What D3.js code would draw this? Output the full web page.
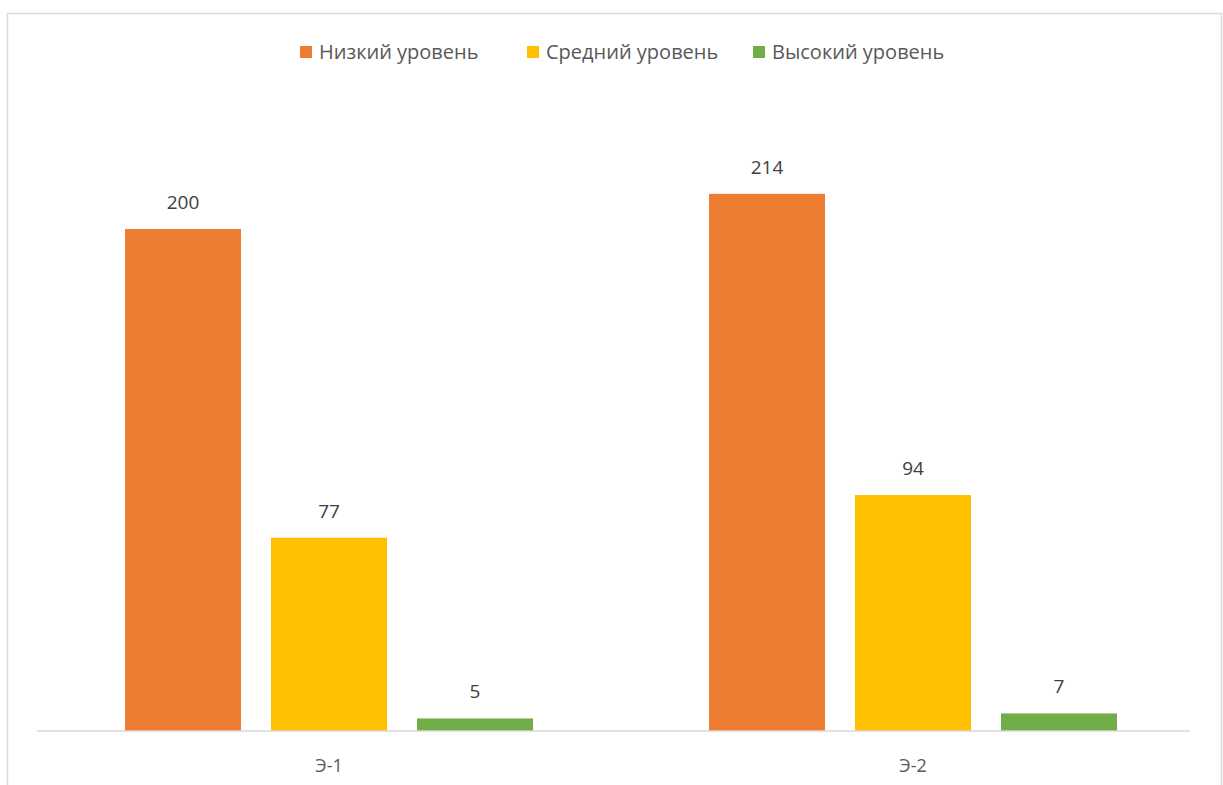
<!DOCTYPE html>
<html>
<head>
<meta charset="utf-8">
<script src="https://cdn.jsdelivr.net/npm/d3@7"></script>
<style>
  html, body { margin: 0; padding: 0; background: #fff; }
  svg { display: block; }
</style>
</head>
<body>
<svg id="chart" width="1223" height="785"></svg>
<script>
// chart data
var categories = ["Э-1", "Э-2"];
var seriesNames = ["Низкий уровень", "Средний уровень", "Высокий уровень"];
var seriesColors = ["#ED7D31", "#FFC000", "#70AD47"];
var lowValues = [200, 214];
var midValues = [77, 94];
var highValues = [5, 7];
var seriesValues = [lowValues, midValues, highValues];

var svg = d3.select("#chart");
var font = "'Open Sans', sans-serif";

// outer frame
svg.append("rect")
    .attr("x", 7.5).attr("y", 13.5)
    .attr("width", 1214).attr("height", 800)
    .attr("fill", "none")
    .attr("stroke", "#d9d9d9")
    .attr("stroke-width", 1.5);

var plot = { left: 37, right: 1205, top: 103.5, bottom: 731 };

var x0 = d3.scaleBand()
    .domain(categories)
    .range([plot.left, plot.right])
    .paddingInner(0).paddingOuter(0);

// inner scale spans the group width (3 bars + 2 gaps)
var groupW = 408;
var x1 = d3.scaleBand()
    .domain(d3.range(seriesNames.length))
    .range([(x0.bandwidth() - groupW) / 2, (x0.bandwidth() + groupW) / 2])
    .paddingInner(30 / 146)
    .paddingOuter(0);

var y = d3.scaleLinear().domain([0, 250]).range([plot.bottom, plot.top]);

var groups = svg.selectAll("g.cat")
    .data(categories)
    .enter().append("g")
    .attr("class", "cat")
    .attr("transform", function (d) { return "translate(" + x0(d) + ",0)"; });

groups.each(function (cat, ci) {
    var g = d3.select(this);
    seriesValues.forEach(function (vals, si) {
        var v = vals[ci];
        g.append("rect")
            .attr("x", x1(si))
            .attr("y", y(v))
            .attr("width", x1.bandwidth())
            .attr("height", y(0) - y(v))
            .attr("fill", seriesColors[si]);
        g.append("text")
            .attr("x", x1(si) + x1.bandwidth() / 2)
            .attr("y", y(v) - 20)
            .attr("text-anchor", "middle")
            .attr("font-family", font)
            .attr("font-size", 19)
            .attr("fill", "#404040")
            .text(v);
    });
});

// baseline axis
var xAxis = d3.axisBottom(x0).tickSize(0).tickPadding(28);
var axisG = svg.append("g")
    .attr("transform", "translate(0," + plot.bottom + ")")
    .call(xAxis);
axisG.select(".domain").attr("stroke", "#d9d9d9").attr("stroke-width", 1.5)
    .attr("d", "M" + plot.left + ",0H" + (plot.right - 15));
axisG.selectAll("text")
    .attr("font-family", font)
    .attr("font-size", 18)
    .attr("fill", "#595959");

// legend
var legendX = [300, 527, 753];
var legend = svg.append("g");
seriesNames.forEach(function (name, i) {
    legend.append("rect")
        .attr("x", legendX[i]).attr("y", 46)
        .attr("width", 12).attr("height", 12)
        .attr("fill", seriesColors[i]);
    legend.append("text")
        .attr("x", legendX[i] + 19).attr("y", 59)
        .attr("font-family", font)
        .attr("font-size", 20)
        .attr("fill", "#595959")
        .text(name);
});
</script>
</body>
</html>
